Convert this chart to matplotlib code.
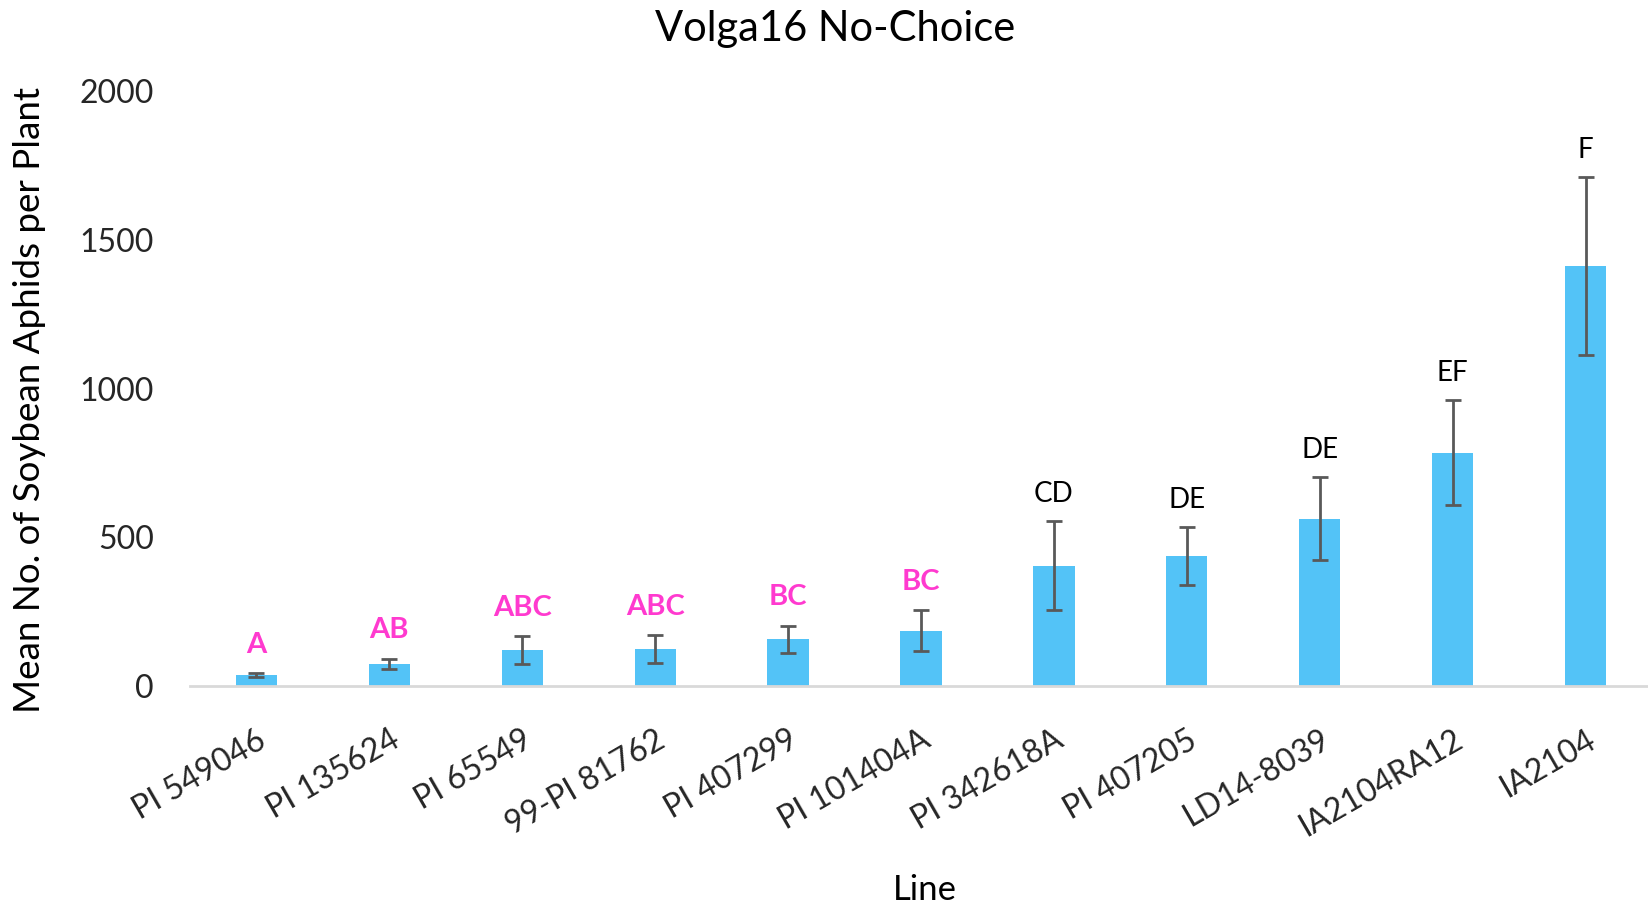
import numpy as np
import matplotlib.pyplot as plt

# aphid counts per line (mean and standard error)
lines = ['PI 549046', 'PI 135624', 'PI 65549', '99-PI 81762', 'PI 407299',
         'PI 101404A', 'PI 342618A', 'PI 407205', 'LD14-8039', 'IA2104RA12', 'IA2104']
means = [37, 74, 120, 124, 157, 186, 405, 438, 563, 785, 1413]
errors = [6, 18, 47, 47, 46, 68, 150, 97, 139, 177, 298]
groups = ['A', 'AB', 'ABC', 'ABC', 'BC', 'BC', 'CD', 'DE', 'DE', 'EF', 'F']
resistant = [True, True, True, True, True, True, False, False, False, False, False]

plt.rcParams['font.family'] = ['Lato', 'DejaVu Sans']

fig = plt.figure(figsize=(16.48, 9.08), dpi=100)
ax = fig.add_axes([190 / 1648, 1 - 686 / 908, 1462 / 1648, 594.6 / 908])

x = np.arange(len(lines))
ax.bar(x, means, width=0.31, color='#53C3F7', zorder=2)
ax.errorbar(x, means, yerr=errors, fmt='none', ecolor='#595959',
            elinewidth=2, capsize=6, capthick=2, zorder=3)

for i in range(len(lines)):
    if resistant[i]:
        ax.annotate(groups[i], (x[i], means[i] + errors[i]), xytext=(0, 11),
                    textcoords='offset points', ha='center', va='bottom',
                    fontsize=21, fontweight='bold', color='#FF3ACF')
    else:
        ax.annotate(groups[i], (x[i], means[i] + errors[i]), xytext=(0, 10),
                    textcoords='offset points', ha='center', va='bottom',
                    fontsize=20, color='black')

ax.set_xlim(-0.5, 10.5)
ax.set_ylim(0, 2000)
ax.set_yticks([0, 500, 1000, 1500, 2000])
ax.set_xticks(x)
ax.set_xticklabels(lines, rotation=30, ha='right', rotation_mode='anchor')
ax.tick_params(axis='both', length=0, labelsize=23, colors='#262626')
ax.tick_params(axis='y', pad=26)
ax.tick_params(axis='x', pad=28)
for side in ['top', 'right', 'left']:
    ax.spines[side].set_visible(False)
ax.spines['bottom'].set_color('#D9D9D9')
ax.spines['bottom'].set_linewidth(2)

# titles placed in figure coordinates
fig.text(0.507, 1 - 29 / 908, 'Volga16 No-Choice', fontsize=30,
         ha='center', va='center')
fig.text(0.561, 1 - 890 / 908, 'Line', fontsize=25, ha='center', va='center')
fig.text(30 / 1648, 1 - 400 / 908, 'Mean No. of Soybean Aphids per Plant',
         fontsize=26.5, rotation=90, ha='center', va='center')

fig.savefig('out.png', dpi=100)
